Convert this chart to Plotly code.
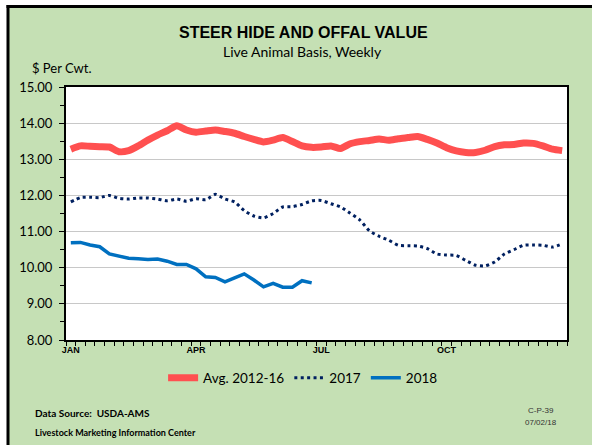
import plotly.graph_objects as go

weeks = list(range(1, 53))
avg_2012_16 = [13.28, 13.37, 13.36, 13.35, 13.34, 13.21, 13.24, 13.37, 13.53, 13.67,
               13.79, 13.93, 13.81, 13.75, 13.78, 13.81, 13.77, 13.72, 13.63, 13.55,
               13.48, 13.53, 13.60, 13.49, 13.37, 13.33, 13.34, 13.37, 13.30, 13.43,
               13.49, 13.52, 13.56, 13.53, 13.57, 13.60, 13.63, 13.55, 13.45, 13.32,
               13.23, 13.19, 13.19, 13.25, 13.35, 13.40, 13.41, 13.45, 13.44, 13.37,
               13.28, 13.24]
y2017 = [11.82, 11.94, 11.95, 11.94, 12.00, 11.92, 11.90, 11.93, 11.93, 11.90,
         11.85, 11.90, 11.84, 11.91, 11.88, 12.03, 11.90, 11.82, 11.58, 11.43,
         11.38, 11.50, 11.68, 11.69, 11.75, 11.85, 11.86, 11.77, 11.68, 11.51,
         11.32, 11.02, 10.87, 10.76, 10.62, 10.61, 10.60, 10.53, 10.38, 10.35,
         10.34, 10.20, 10.07, 10.05, 10.16, 10.38, 10.50, 10.62, 10.63, 10.62,
         10.57, 10.66]
y2018 = [10.69, 10.70, 10.63, 10.58, 10.38, 10.32, 10.26, 10.25, 10.23, 10.24,
         10.18, 10.09, 10.09, 9.97, 9.75, 9.73, 9.61, 9.72, 9.83, 9.66,
         9.47, 9.57, 9.46, 9.46, 9.64, 9.58]
month_ticks = [1, 14, 27, 40]
month_labels = ["JAN", "APR", "JUL", "OCT"]

W, H = 592, 445
ML, MR, MT, MB = 66, 25, 87, 105
PW, PH = W - ML - MR, H - MT - MB

def px(x):
    return (x - ML) / PW

def py(y):
    return (H - MB - y) / PH

fig = go.Figure()
fig.add_trace(go.Scatter(x=weeks, y=avg_2012_16, name="Avg. 2012-16", mode="lines",
                         line=dict(color="#ff5050", width=7, shape="spline", smoothing=0.6)))
fig.add_trace(go.Scatter(x=weeks, y=y2017, name="2017", mode="lines",
                         line=dict(color="#002060", width=3, dash="3px,3.4px", shape="spline", smoothing=0.6)))
fig.add_trace(go.Scatter(x=weeks[:len(y2018)], y=y2018, name="2018", mode="lines",
                         line=dict(color="#0070c0", width=3.5)))

font_main = "Lato, 'Open Sans', sans-serif"

fig.update_layout(
    width=W, height=H,
    margin=dict(l=ML, r=MR, t=MT, b=MB, pad=0, autoexpand=False),
    paper_bgcolor="#c5e0b4",
    plot_bgcolor="white",
    font=dict(family=font_main, color="black"),
    showlegend=True,
    legend=dict(orientation="h", xref="container", yref="container",
                x=0.512, xanchor="center", y=(H - 378) / H, yanchor="middle",
                font=dict(size=13.5, family=font_main), bgcolor="rgba(0,0,0,0)",
                itemwidth=30, traceorder="normal"),
    xaxis=dict(range=[0.5, 52.5], tickvals=month_ticks, ticktext=month_labels,
               ticks="", showgrid=False, zeroline=False,
               showline=True, linecolor="black", linewidth=2, mirror=True,
               tickfont=dict(size=9, family="Liberation Sans, Arial", color="black", weight="bold"),
               minor=dict(tick0=0.5, dtick=1, ticks="outside", ticklen=4,
                          tickcolor="black", tickwidth=1, showgrid=False)),
    yaxis=dict(range=[8, 15], dtick=1, tickformat=".2f",
               ticks="outside", ticklen=5, tickcolor="black", ticklabelstandoff=4,
               showgrid=True, gridcolor="#c8c8c8", gridwidth=1.2, zeroline=False,
               showline=True, linecolor="black", linewidth=2, mirror=True,
               tickfont=dict(size=13, family=font_main, color="black"),
               minor=dict(dtick=0.5, ticks="outside", ticklen=4, tickcolor="black",
                          showgrid=False)),
)

# outer frame: white strips and black border lines (top and left)
fig.add_shape(type="rect", xref="paper", yref="paper", x0=px(0), x1=px(8), y0=py(H), y1=py(0),
              fillcolor="white", line=dict(width=0), layer="above")
fig.add_shape(type="rect", xref="paper", yref="paper", x0=px(0), x1=px(W), y0=py(6), y1=py(0),
              fillcolor="white", line=dict(width=0), layer="above")
fig.add_shape(type="line", xref="paper", yref="paper", x0=px(8), x1=px(8), y0=py(H + 2), y1=py(5),
              line=dict(color="black", width=3), layer="above")
fig.add_shape(type="line", xref="paper", yref="paper", x0=px(6.5), x1=px(W + 2), y0=py(6.5), y1=py(6.5),
              line=dict(color="black", width=3), layer="above")

def note(text, x, y, size, bold=False, family=font_main, anchor="center", color="black"):
    fig.add_annotation(text=f"<b>{text}</b>" if bold else text, xref="paper", yref="paper",
                       x=px(x), y=py(y), xanchor=anchor, yanchor="middle", showarrow=False,
                       font=dict(size=size, family=family, color=color))

note("STEER HIDE AND OFFAL VALUE", 303, 33, 16, bold=True, family="Liberation Sans, Arial")
note("Live Animal Basis, Weekly", 302, 52, 14)
note("$ Per Cwt.", 30, 68, 13, anchor="left")
note("Data Source:  USDA-AMS", 33, 413, 10, bold=True, anchor="left")
note("Livestock Marketing Information Center", 33, 432, 9, bold=True, anchor="left")
note("C-P-39", 541, 410, 8, family="Liberation Sans, Arial", color="#333333")
note("07/02/18", 541, 423, 8, family="Liberation Sans, Arial", color="#333333")

fig.write_html("out.html", config={"displayModeBar": False},
               post_script="document.body.style.margin='0';document.body.style.overflow='hidden';")
